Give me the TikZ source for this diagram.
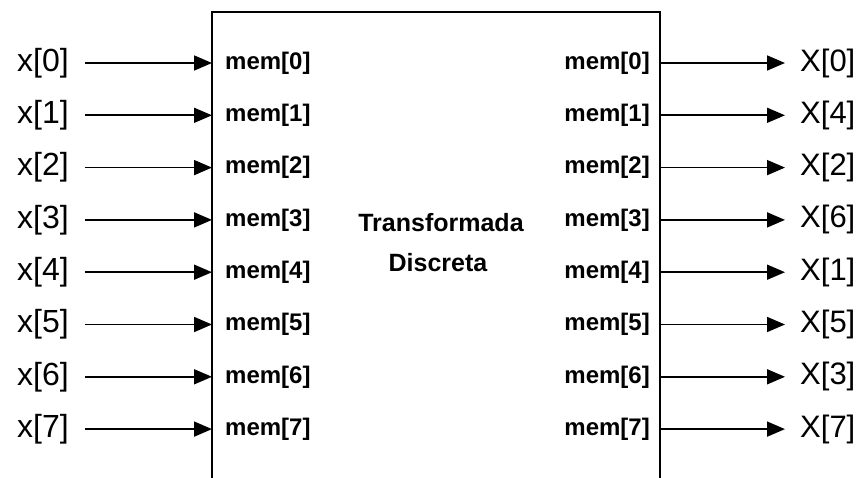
\documentclass[tikz,border=0pt]{standalone}
\usepackage{fontspec}
\setmainfont{Liberation Sans}
\usetikzlibrary{arrows.meta}
\begin{document}
\begin{tikzpicture}[x=1pt,y=-1pt,
 inlab/.style={font=\fontsize{32}{36}\selectfont, inner sep=0pt, anchor=west},
 outlab/.style={font=\fontsize{31}{36}\selectfont, inner sep=0pt, anchor=west},
 memlab/.style={font=\bfseries\fontsize{24}{28}\selectfont, inner sep=0pt},
 titlelab/.style={font=\bfseries\fontsize{25}{28}\selectfont, inner sep=0pt},
 sig/.style={line width=1.7pt, -{Triangle[length=18pt,width=15pt]}},
 boxline/.style={line width=1.9pt}]
\useasboundingbox (0,0) rectangle (866,478);
\coordinate (bl) at (212,478);
\coordinate (tl) at (212,12);
\coordinate (tr) at (660,12);
\coordinate (br) at (660,478);
\draw[boxline] (bl) -- (tl) -- (tr) -- (br);
\node[titlelab] (title) at (441,223) {Transformada};
\node[titlelab] (title2) at (438,263) {Discreta};
\foreach \i/\o [count=\k from 0] in {0/0,1/4,2/2,3/6,4/1,5/5,6/3,7/7} {
  \pgfmathsetmacro\yy{63+52.3*\k}
  \node[inlab] (x\i) at (17,\yy) {x[\i]};
  \coordinate (inE\i) at (212,\yy);
  \node[memlab, anchor=west] (mi\i) at (225,\yy) {mem[\i]};
  \node[memlab, anchor=east] (mo\i) at (650,\yy) {mem[\i]};
  \coordinate (outS\i) at (660,\yy);
  \node[outlab] (X\o) at (800,\yy) {X[\o]};
  \draw[sig, shorten <=16pt] (x\i.east) -- (inE\i);
  \draw[sig, shorten >=15pt] (outS\i) -- (X\o.west);
}
\end{tikzpicture}
\end{document}
